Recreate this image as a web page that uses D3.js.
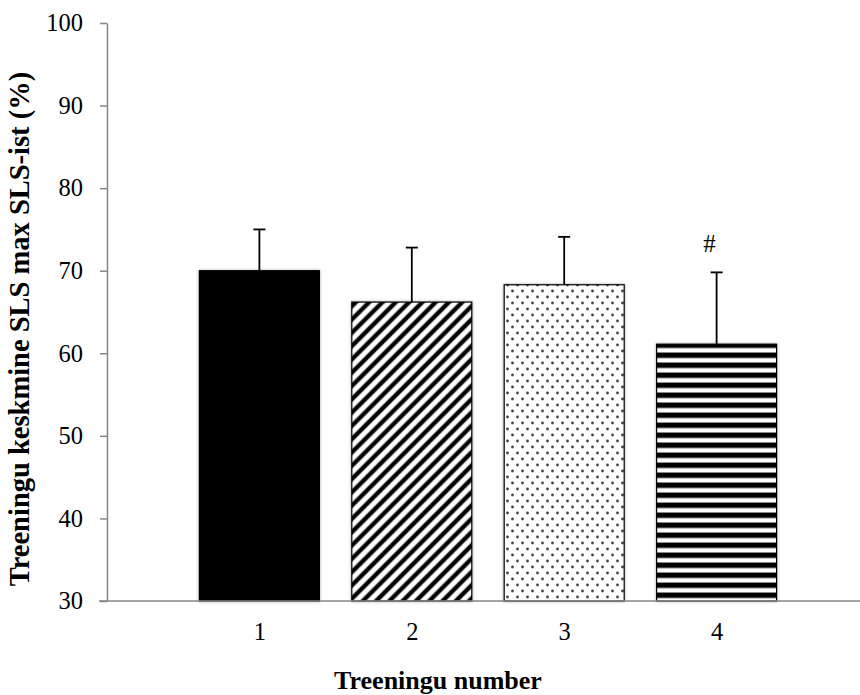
<!DOCTYPE html>
<html>
<head>
<meta charset="utf-8">
<script src="https://cdn.jsdelivr.net/npm/d3@7"></script>
<style>
  html, body { margin: 0; padding: 0; background: #fff; }
  svg { display: block; }
</style>
</head>
<body>
<svg id="chart" width="860" height="695"></svg>
<script>
// Training session means (% of max SLS) with SD error bars
const categories = ["1", "2", "3", "4"];
const means = [70.0, 66.2, 68.3, 61.1];
const sds = [5.0, 6.6, 5.8, 8.7];
const markers = ["", "", "", "#"];
const fills = ["solid", "diag", "dots", "hstripe"];
const yTicks = [30, 40, 50, 60, 70, 80, 90, 100];

const svg = d3.select("#chart");
const font = "'Liberation Serif', 'Times New Roman', serif";
const axisGray = "#868686";

const x = d3.scaleLinear().domain([0, 5]).range([107, 869]);
const y = d3.scaleLinear().domain([30, 100]).range([601, 23]);
const barW = 120;

const defs = svg.append("defs");

// soft shadow around bars
const shadow = defs.append("filter").attr("id", "shadow")
  .attr("x", "-10%").attr("y", "-10%").attr("width", "120%").attr("height", "120%");
shadow.append("feDropShadow").attr("dx", 0).attr("dy", 0)
  .attr("stdDeviation", 1.6).attr("flood-color", "#000").attr("flood-opacity", 0.35);

// diagonal stripes
const diag = defs.append("pattern").attr("id", "diag")
  .attr("patternUnits", "userSpaceOnUse").attr("width", 9.4).attr("height", 9.4)
  .attr("patternTransform", "rotate(-45)");
diag.append("rect").attr("width", 9.4).attr("height", 9.4).attr("fill", "#fff");
diag.append("rect").attr("y", 2.2).attr("width", 9.4).attr("height", 5).attr("fill", "#777");
diag.append("rect").attr("y", 2.9).attr("width", 9.4).attr("height", 3.6).attr("fill", "#000");

// dotted fill
const dots = defs.append("pattern").attr("id", "dots")
  .attr("patternUnits", "userSpaceOnUse").attr("width", 10).attr("height", 12);
dots.append("rect").attr("width", 10).attr("height", 12).attr("fill", "#fff");
dots.append("circle").attr("cx", 2.5).attr("cy", 3).attr("r", 1.4).attr("fill", "#444");
dots.append("circle").attr("cx", 7.5).attr("cy", 9).attr("r", 1.4).attr("fill", "#444");

// horizontal stripes
const hs = defs.append("pattern").attr("id", "hstripe")
  .attr("patternUnits", "userSpaceOnUse").attr("width", 10).attr("height", 10);
hs.append("rect").attr("width", 10).attr("height", 10).attr("fill", "#fff");
hs.append("rect").attr("y", 2).attr("width", 10).attr("height", 6.5).attr("fill", "#8a8a8a");
hs.append("rect").attr("y", 3).attr("width", 10).attr("height", 4.5).attr("fill", "#000");

const fillOf = k => k === "solid" ? "#000" : `url(#${k})`;

// y axis
const yAxis = svg.append("g")
  .attr("transform", `translate(${x(0)},0)`)
  .call(d3.axisLeft(y).tickValues(yTicks).tickSize(7).tickPadding(17).tickSizeOuter(0));
yAxis.select(".domain").attr("stroke", axisGray).attr("stroke-width", 1.5);
yAxis.selectAll(".tick line").attr("stroke", axisGray).attr("stroke-width", 1.5);
yAxis.selectAll(".tick text")
  .attr("font-family", font).attr("font-size", 24.5).attr("fill", "#000");

// bars
const data = categories.map((c, i) => ({ c, pos: i + 1, m: means[i], sd: sds[i], mk: markers[i], f: fills[i] }));

const g = svg.append("g");
g.selectAll("rect.bar").data(data).enter().append("rect")
  .attr("class", "bar")
  .attr("x", d => x(d.pos) - barW / 2)
  .attr("width", barW)
  .attr("y", d => y(d.m))
  .attr("height", d => y(30) - y(d.m))
  .attr("fill", d => fillOf(d.f))
  .attr("stroke", "#000").attr("stroke-width", 1.2)
  .attr("filter", "url(#shadow)");

// error bars (upper only)
g.selectAll("line.err").data(data).enter().append("line")
  .attr("x1", d => x(d.pos)).attr("x2", d => x(d.pos))
  .attr("y1", d => y(d.m)).attr("y2", d => y(d.m + d.sd))
  .attr("stroke", "#000").attr("stroke-width", 1.8);
g.selectAll("line.cap").data(data).enter().append("line")
  .attr("x1", d => x(d.pos) - 6).attr("x2", d => x(d.pos) + 6)
  .attr("y1", d => y(d.m + d.sd)).attr("y2", d => y(d.m + d.sd))
  .attr("stroke", "#000").attr("stroke-width", 1.8);

// significance markers
g.selectAll("text.mk").data(data.filter(d => d.mk)).enter().append("text")
  .attr("x", d => x(d.pos) - 7)
  .attr("y", d => y(d.m + d.sd) - 20)
  .attr("text-anchor", "middle")
  .attr("font-family", font).attr("font-size", 25).attr("fill", "#000")
  .text(d => d.mk);

// x axis
const xAxis = svg.append("g")
  .attr("transform", `translate(0,${y(30)})`)
  .call(d3.axisBottom(x).tickValues(data.map(d => d.pos))
    .tickFormat((v, i) => categories[i]).tickSize(0).tickPadding(22));
xAxis.select(".domain").remove();
xAxis.selectAll(".tick text")
  .attr("font-family", font).attr("font-size", 24.5).attr("fill", "#000");
svg.append("line")
  .attr("x1", 99).attr("x2", 860)
  .attr("y1", y(30)).attr("y2", y(30))
  .attr("stroke", axisGray).attr("stroke-width", 1.5);

// axis titles
svg.append("text")
  .attr("x", 438).attr("y", 689)
  .attr("text-anchor", "middle")
  .attr("font-family", font).attr("font-size", 26).attr("font-weight", "bold")
  .text("Treeningu number");

svg.append("text")
  .attr("transform", `translate(29,329) rotate(-90)`)
  .attr("text-anchor", "middle")
  .attr("font-family", font).attr("font-size", 28.5).attr("font-weight", "bold")
  .text("Treeningu keskmine SLS max SLS-ist (%)");
</script>
</body>
</html>
